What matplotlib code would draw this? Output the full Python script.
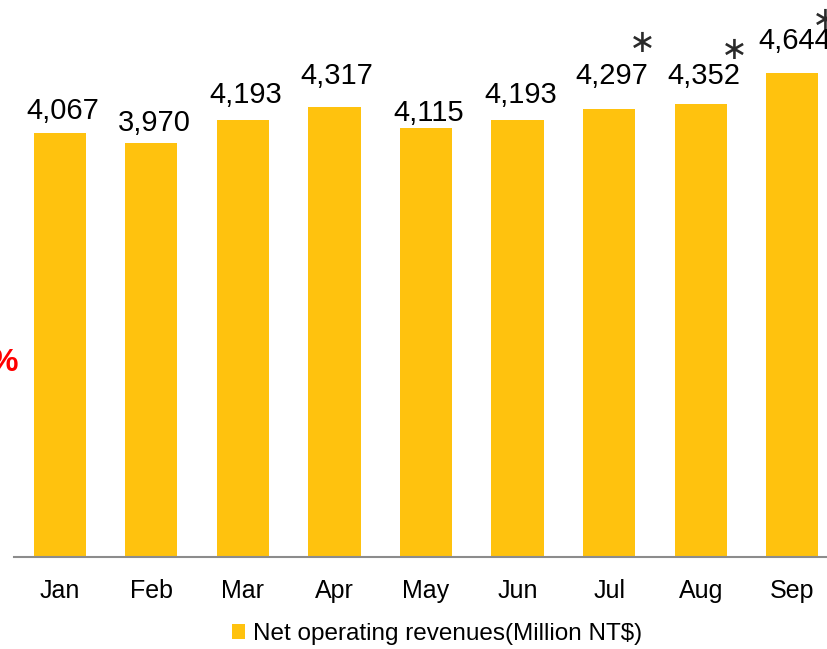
import matplotlib
matplotlib.use("Agg")
import matplotlib.pyplot as plt
from matplotlib.patches import Patch

months = ["Jan", "Feb", "Mar", "Apr", "May", "Jun", "Jul", "Aug", "Sep"]
revenues = [4067, 3970, 4193, 4317, 4115, 4193, 4297, 4352, 4644]
value_labels = ["4,067", "3,970", "4,193", "4,317", "4,115", "4,193", "4,297", "4,352", "4,644"]
starred = [False, False, False, False, False, False, True, True, True]
legend_label = "Net operating revenues(Million NT$)"

# label gap above each bar (points), as placed in the original
label_gap_pt = [10, 9, 12, 17, 5, 12, 18, 14, 17]

W, H = 827, 649
fig = plt.figure(figsize=(W / 100, H / 100), dpi=100)
plt.rcParams['font.family'] = ['Liberation Sans', 'DejaVu Sans']

step_px = 91.56
ax = fig.add_axes([14 / W, (H - 557) / H, 9 * step_px / W, 521 / H])
bar_color = "#FFC20E"
x = list(range(len(months)))
bars = ax.bar(x, revenues, width=0.57, color=bar_color, edgecolor="none", zorder=2)
ax.set_xlim(-0.5, 8.5)
ax.set_ylim(0, 5000)

for s in ["top", "right", "left"]:
    ax.spines[s].set_visible(False)
ax.spines["bottom"].set_color("#8c8c8c")
ax.spines["bottom"].set_linewidth(1.5)
ax.set_yticks([])
ax.set_xticks(x)
ax.set_xticklabels(months, fontsize=18)
ax.tick_params(axis="x", length=0, pad=16)

for i, v in enumerate(revenues):
    ax.annotate(value_labels[i], (x[i], v), xytext=(2, label_gap_pt[i]),
                textcoords="offset points", ha="center", va="baseline",
                fontsize=21, color="black", annotation_clip=False)
    if starred[i]:
        dy = 47 if i == 6 else 38
        ax.annotate("\u2217", (x[i], v), xytext=(24, dy),
                    textcoords="offset points", ha="center", va="center",
                    fontsize=23, color="#2a2a2a", family="DejaVu Sans",
                    annotation_clip=False)

fig.text(18 / W, 1 - 363 / H, "%", ha="right", va="center", fontsize=23,
         fontweight="bold", color="#FF0000")

handle = Patch(facecolor=bar_color, edgecolor="none")
fig.legend([handle], [legend_label], loc="center",
           bbox_to_anchor=(437 / W, 1 - 634 / H), frameon=False, fontsize=17.5,
           handlelength=0.55, handleheight=0.55, handletextpad=0.3,
           borderpad=0, borderaxespad=0)

fig.savefig("out.png", dpi=100)
